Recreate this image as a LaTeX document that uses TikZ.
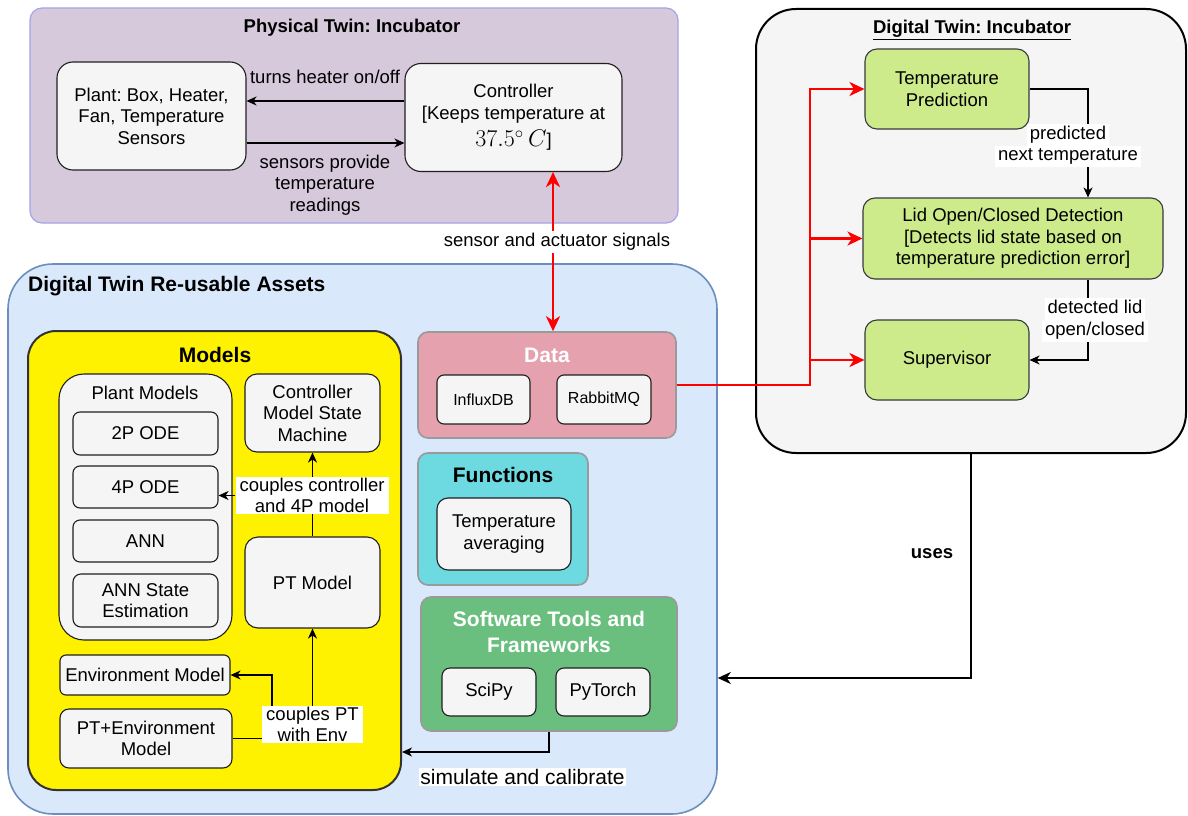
\documentclass[tikz,border=0pt]{standalone}
\usepackage{fix-cm}
\usepackage{graphicx}
\usepackage{fontspec}
\setmainfont{Liberation Sans}
\usetikzlibrary{arrows.meta}
\frenchspacing

\definecolor{ptfill}{HTML}{D7C9DC}
\definecolor{ptline}{HTML}{A3A5E6}
\definecolor{boxgray}{HTML}{F5F5F5}
\definecolor{dtafill}{HTML}{DAE8FC}
\definecolor{dtaline}{HTML}{6C8EBF}
\definecolor{datafill}{HTML}{E5A1AE}
\definecolor{funcfill}{HTML}{6DD9E1}
\definecolor{swfill}{HTML}{6ABF7E}
\definecolor{greenbox}{HTML}{CDEB8B}
\definecolor{greenline}{HTML}{36393D}
\definecolor{grpline}{HTML}{9A9A9A}

\newcommand\fN{\fontsize{18.5}{21.6}\selectfont}
\newcommand\fT{\fontsize{18.5}{21.6}\selectfont\bfseries}
\newcommand\fB{\fontsize{21}{25.2}\selectfont\bfseries}
\newcommand\fS{\fontsize{16}{19.2}\selectfont}
% one white strip behind each line of an edge label
\newcommand\wl[1]{{\setlength\fboxsep{0pt}\colorbox{white}{\strut\,#1\,}}}

\begin{document}
\begin{tikzpicture}[x=1pt,y=-1pt,
  every node/.style={font=\fN, inner sep=0pt, align=center},
  sz/.style 2 args={minimum width=#1pt, minimum height=#2pt},
  box/.style={draw=black!88, fill=boxgray, line width=1.1pt, rounded corners=#1},
  box/.default=8pt,
  gbox/.style={draw=greenline, fill=greenbox, line width=1.1pt, rounded corners=12pt},
  grp/.style={draw=grpline, line width=1.6pt, rounded corners=10pt},
  arr/.style={line width=1.1pt, -{Stealth[length=10pt, width=9pt, inset=3pt]}},
  redarr/.style={draw=red, line width=2.9pt, -{Stealth[length=15pt, width=14pt, inset=4.5pt]}},
  redboth/.style={draw=red, line width=2.9pt, {Stealth[length=15pt, width=14pt, inset=4.5pt]}-{Stealth[length=15pt, width=14pt, inset=4.5pt]}},
  usearr/.style={line width=2.2pt, -{Stealth[length=13pt, width=12pt, inset=4pt]}},
  lbl/.style={fill=white, inner xsep=4pt, inner ysep=0.5pt}
]
\fill[white] (0,0) rectangle (1188,816);
\useasboundingbox (0,0) rectangle (1188,816);

% ---------- Physical twin ----------
\node[sz={648}{215}, draw=ptline, fill=ptfill, line width=1.2pt, rounded corners=12pt] (pt) at (354,115.5) {};
\node[font=\fT] (ptt) at (352,28) {Physical Twin: Incubator};
\node[box=16pt, sz={189}{108}] (plant) at (151.5,116) {Plant: Box, Heater,\\Fan, Temperature\\Sensors};
\node[box=16pt, sz={217}{108}] (ctrl) at (513.5,117.5) {Controller\\{[}Keeps temperature at\\[6pt]\scalebox{1.3}{$37.5^{\circ}\,C$}{]}};

\draw[arr] (ctrl.west |- 0,101) -- (plant.east |- 0,101);
\node (lturn) at (325,77) {turns heater on/off};
\draw[arr] (plant.east |- 0,143) -- (ctrl.west |- 0,143);
\node (lsens) at (325,185) {sensors provide\\temperature\\readings};

% ---------- Digital twin re-usable assets ----------
\node[sz={709}{550}, draw=dtaline, fill=dtafill, line width=1.6pt, rounded corners=45pt] (dta) at (362.5,539) {};
\node[font=\fB, anchor=west] (dtat) at (28,286) {Digital Twin Re-usable Assets};

% models
\node[sz={373}{459}, draw=black!80, fill=yellow, line width=2pt, rounded corners=28pt] (models) at (214.5,560.5) {};
\node[font=\fB] (modelst) at (215,355) {Models};

\node[box=25pt, sz={173}{266}] (pm) at (145.5,507) {};
\node (pmt) at (145,393) {Plant Models};
\node[box=7pt, sz={145}{43}] (ode2) at (145.5,433.5) {2P ODE};
\node[box=7pt, sz={145}{42}] (ode4) at (145.5,487) {4P ODE};
\node[box=7pt, sz={145}{42}] (ann) at (145.5,541) {ANN};
\node[box=8pt, sz={145}{53}] (anns) at (145.5,600.5) {ANN State\\Estimation};

\node[box=12pt, sz={135}{78}] (csm) at (312.5,413) {Controller\\Model State\\Machine};
\node[box=13pt, sz={135}{91}] (ptm) at (312.5,582.5) {PT Model};
\node[box=6pt, sz={170}{40}] (envm) at (145,675) {Environment Model};
\node[box=9pt, sz={172}{59}] (ptenv) at (146,738.5) {PT+Environment\\Model};

\draw[arr] (ptm.north) -- (csm.south);
\node[lbl] (lcc) at (312,495.5) {couples controller\\and 4P model};
\draw[arr] (lcc.west) -- (lcc.west -| ode4.east);

\draw[arr] (ptenv.east) -| (ptm.south);
\node[lbl] (lpe) at (312.5,724.5) {couples PT\\with Env};
\draw[arr] ([xshift=-40.5pt]lpe.north) |- (envm.east);

% data
\node[grp, fill=datafill, sz={258}{106}] (data) at (547,385) {};
\node[font=\fB, text=white] (datat) at (547,355) {Data};
\node[box=7pt, sz={93}{49}, font=\fS] (influx) at (483.5,399.5) {InfluxDB};
\node[box=7pt, sz={94}{49}, font=\fS] (rabbit) at (604,399.5) {RabbitMQ};

% functions
\node[grp, fill=funcfill, sz={170}{132}] (func) at (503,519) {};
\node[font=\fB] (funct) at (503,475) {Functions};
\node[box=11pt, sz={134}{72}] (tavg) at (504,534) {Temperature\\averaging};

% software tools
\node[grp, fill=swfill, sz={256}{134}] (sw) at (549,664) {};
\node[font=\fB, text=white] (swt) at (549,632) {Software Tools and\\Frameworks};
\node[box=8pt, sz={94}{48}] (scipy) at (489,692) {SciPy};
\node[box=8pt, sz={94}{48}] (torch) at (603,692) {PyTorch};

\draw[arr] (sw.south) |- ([yshift=-191.5pt]models.east);
\node[fill=white, inner xsep=1pt, inner ysep=1pt, font=\fontsize{21}{25.2}\selectfont] (lsim) at (522.5,777) {simulate and calibrate};

% ---------- Digital twin ----------
\node[sz={430}{444}, draw=black, fill=boxgray, line width=2pt, rounded corners=40pt] (dti) at (971,231) {};
\node[font=\fT] (dtit) at (972,30) {\underline{Digital Twin: Incubator}};
\node[gbox, sz={164}{80}] (tp) at (947,89) {Temperature\\Prediction};
\node[gbox, sz={300}{81}] (lid) at (1013,238.5) {Lid Open/Closed Detection\\{[}Detects lid state based on\\temperature prediction error{]}};
\node[gbox, sz={164}{80}] (sup) at (947,360) {Supervisor};

\draw[arr] (tp.east) -| ([xshift=75pt]lid.north);
\node (lpred) at (1068,145.5) {\wl{predicted}\\\wl{next temperature}};
\draw[arr] ([xshift=75pt]lid.south) |- (sup.east);
\node (ldet) at (1095,320) {\wl{detected lid}\\\wl{open/closed}};

% ---------- signal flow ----------
\draw[redboth] ([xshift=39.5pt]ctrl.south) -- ([xshift=6pt]data.north);
\node[fill=white, inner xsep=3pt, inner ysep=2pt] (lsig) at (557,242) {sensor and actuator signals};

\coordinate (rj) at (810,385);
\draw[redarr] (data.east) -- (rj) |- (tp.west);
\draw[redarr] (rj |- lid.west) -- (lid.west);
\draw[redarr] (rj |- sup.west) -- (sup.west);

\draw[usearr] (dti.south) |- ([yshift=-139pt]dta.east);
\node[font=\fT] (luses) at (932,554) {uses};
\end{tikzpicture}
\end{document}
